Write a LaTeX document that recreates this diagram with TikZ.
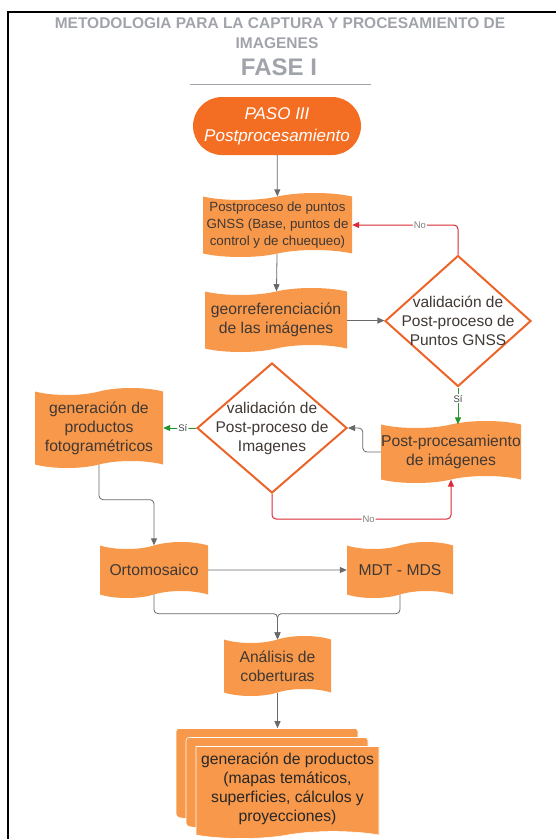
\documentclass[tikz,border=0pt]{standalone}
\usepackage{fontspec}
\setmainfont{Liberation Sans}
\usetikzlibrary{shapes.geometric,shapes.symbols,arrows.meta,calc}

\definecolor{docfill}{RGB}{248,152,74}
\definecolor{pillfill}{RGB}{243,110,35}
\definecolor{decline}{RGB}{236,100,40}
\definecolor{doctext}{RGB}{64,56,52}
\definecolor{titlegray}{RGB}{160,164,170}
\definecolor{linegray}{RGB}{105,105,105}
\definecolor{nored}{RGB}{218,40,52}
\definecolor{sigreen}{RGB}{34,150,44}

\begin{document}
\begin{tikzpicture}[x=1pt, y=-1pt,
    doc/.style={tape, tape bend top=in and out, tape bend bottom=in and out,
        tape bend height=7pt, fill=docfill, draw=none, text=doctext,
        align=center, inner sep=0pt, font=\fontsize{15.7}{19}\selectfont},
    sheet/.style={doc, tape bend top=none, draw=white, line width=0.6pt,
        minimum width=182pt, minimum height=92pt},
    decision/.style={diamond, draw=decline, line width=2pt, fill=white,
        inner sep=0pt, minimum width=146pt, minimum height=131pt},
    dtext/.style={text=doctext, align=center, font=\fontsize{15.5}{19}\selectfont},
    title/.style={text=titlegray, font=\bfseries\fontsize{15.5}{18}\selectfont},
    link/.style={draw=linegray, line width=0.8pt, rounded corners=4pt,
        -{Triangle[length=7pt,width=6pt]}},
    nolink/.style={link, draw=nored, line width=1pt},
    silink/.style={link, draw=sigreen, line width=1pt},
    lbl/.style={fill=white, inner sep=1pt, text=gray, font=\fontsize{9.5}{11}\selectfont}
]
\useasboundingbox (0,0) rectangle (556,839);

% marco
\draw[line width=2pt] (556,12) -| (8,839);

% titulo
\node[title] (tit1) at (280,23) {METODOLOGIA PARA LA CAPTURA Y PROCESAMIENTO DE};
\node[title] (tit2) at (277,43) {IMAGENES};
\node[title, font=\bfseries\fontsize{24}{28}\selectfont] (fase) at (279,67) {FASE I};
\draw[titlegray, line width=1pt] (190,84) -- (371,84);

% nodos
\node[rounded corners=29pt, fill=pillfill, minimum width=168pt, minimum height=58pt,
    text=white, align=center, font=\itshape\fontsize{17}{22}\selectfont]
    (paso) at (277,126) {PASO III\\Postprocesamiento};
\node[doc, minimum width=149pt, minimum height=64pt, font=\fontsize{13.3}{17}\selectfont]
    (postgnss) at (277.5,225) {Postproceso de puntos\\GNSS (Base, puntos de\\control y de chuequeo)};
\node[doc, minimum width=142pt, minimum height=64pt]
    (georref) at (276,320) {georreferenciación\\de las imágenes};
\node[decision, label={[dtext]center:{validación de\\Post-proceso de\\Puntos GNSS}}]
    (valgnss) at (458,321) {};
\node[doc, minimum width=140pt, minimum height=62pt]
    (postimg) at (451,452) {Post-procesamiento\\de imágenes};
\node[decision, minimum width=150pt, minimum height=130pt,
    label={[dtext]center:{validación de\\Post-proceso de\\Imagenes}}]
    (valimg) at (272,428) {};
\node[doc, minimum width=128pt, minimum height=80pt]
    (genfoto) at (99,428) {generación de\\productos\\fotogramétricos};
\node[doc, minimum width=108pt, minimum height=56pt] (orto) at (154,570) {Ortomosaico};
\node[doc, minimum width=106pt, minimum height=56pt] (mdt) at (400,570) {MDT - MDS};
\node[doc, minimum width=107pt, minimum height=60pt]
    (analisis) at (277.5,666) {Análisis de\\coberturas};
\node[sheet, rounded corners=3pt] (prodA) at (267,771) {};
\node[sheet, rounded corners=3pt] (prodB) at (277,780) {};
\node[sheet, minimum width=183pt, text=black!85]
    (prodC) at (287.5,789) {generación de productos\\(mapas temáticos,\\superficies, cálculos y\\proyecciones)};

% conectores
\draw[link] (paso) -- (postgnss);
\draw[link] (postgnss) -- (georref);
\draw[link] (georref) -- (valgnss);
\draw[nolink] (valgnss.north) |- node[lbl, pos=0.68] {No} (postgnss.east);
\draw[silink] (valgnss.south) -- node[lbl, pos=0.3, text=darkgray] {Sí} (valgnss.south |- postimg.north);
\draw[link] (postimg.west) -- ++(-18,0) |- (valimg.east);
\draw[nolink] (valimg.south) -- ++(0,25) -| node[lbl, pos=0.27] {No} (postimg.south);
\draw[silink] (valimg.west) -- node[lbl, pos=0.4, text=darkgray] {Sí} (genfoto.east);
\draw[link] (genfoto.south) -- ++(0,35) -| (orto.north);
\draw[link] (orto) -- (mdt);
\draw[link] (orto.south) -- ++(0,19) -| (analisis.north);
\draw[link] (mdt.south) -- ++(0,19) -| (analisis.north);
\draw[link] (analisis.south) -- (analisis.south |- prodA.north);
\end{tikzpicture}
\end{document}
